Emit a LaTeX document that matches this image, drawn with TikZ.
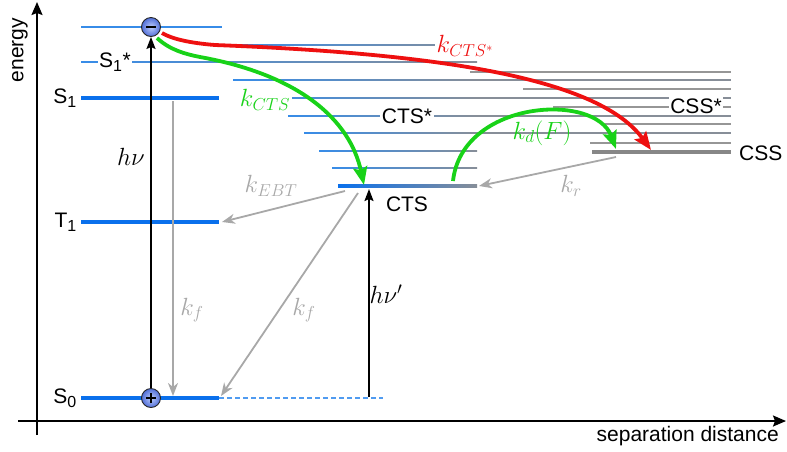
\documentclass[tikz,border=0pt]{standalone}
\usepackage[no-math]{fontspec}
\setmainfont{Liberation Sans}
\usetikzlibrary{arrows.meta}
\DeclareMathSizes{21}{21}{16}{12}
\DeclareMathSizes{24}{24}{18}{13}
\definecolor{lvblue}{RGB}{10,112,236}
\definecolor{thinblue}{RGB}{55,140,232}
\definecolor{dashblue}{RGB}{80,155,240}
\definecolor{thingray}{RGB}{135,142,152}
\definecolor{cssgray}{RGB}{150,150,150}
\definecolor{cssthick}{RGB}{135,135,135}
\definecolor{arrgray}{RGB}{168,168,168}
\definecolor{kgreen}{RGB}{24,210,24}
\definecolor{kred}{RGB}{238,16,16}
\definecolor{circin}{RGB}{190,205,252}
\definecolor{circout}{RGB}{80,110,215}
\newcommand\lvlgrad[3]{\fill[left color=thinblue,right color=thingray] (#1,#3-0.65) rectangle (#2,#3+0.65);}
\newcommand\lvlgradlong[3]{\fill[left color=thinblue,right color=thingray] (#1,#3-0.65) rectangle (477,#3+0.65);
  \fill[thingray] (477,#3-0.65) rectangle (#2,#3+0.65);}
\newcommand\lvlgray[3]{\fill[cssgray] (#1,#3-0.6) rectangle (#2,#3+0.6);}
\begin{document}
\begin{tikzpicture}[x=1pt,y=-1pt,
  lbl/.style={font=\fontsize{21}{25}\selectfont, inner sep=0pt},
  wlbl/.style={lbl, fill=white, inner sep=1.5pt},
  mlbl/.style={font=\fontsize{24}{28}\selectfont, inner sep=0pt},
  wmlbl/.style={mlbl, fill=white, inner sep=1.5pt},
  axisarrow/.style={line width=1.8pt, -{Stealth[length=13pt,width=11pt,inset=2pt]}},
  photon/.style={line width=1.8pt, -{Stealth[length=12pt,width=9pt,inset=2pt]}},
  grayarrow/.style={arrgray, line width=1.8pt, -{Stealth[length=13pt,width=10pt,inset=4pt]}},
  garrow/.style={kgreen, line width=3.8pt, -{Stealth[length=18pt,width=14pt,inset=3pt]}},
  rarrow/.style={kred, line width=3.8pt, -{Stealth[length=18pt,width=14pt,inset=3pt]}},
  lvl/.style={lvblue, line width=3.3pt},
  charge/.style={circle, draw=black!85, line width=0.9pt, minimum size=19pt, inner sep=0pt, inner color=circin, outer color=circout}
]
\useasboundingbox (0,0) rectangle (787,451);

% axes
\coordinate (ybot) at (37,435);
\coordinate (ytop) at (37,2);
\coordinate (xleft) at (18,421);
\coordinate (xright) at (786,421);
\draw[axisarrow] (ybot) -- (ytop);
\draw[axisarrow] (xleft) -- (xright);
\node[lbl, rotate=90] (energy) at (20,50) {energy};
\node[lbl, anchor=east] (sepdist) at (779,436) {separation distance};

% thin ladder lines
\fill[thinblue] (81,26.35) rectangle (222,27.65);
\lvlgrad{230}{477}{45}
\lvlgrad{81}{477}{62}
\lvlgrad{319}{477}{151}
\lvlgrad{332}{477}{168}
\lvlgradlong{233}{731}{80}
\lvlgradlong{258}{731}{98}
\lvlgradlong{288}{731}{116}
\lvlgradlong{304}{731}{133}
\lvlgray{470}{731}{72}
\lvlgray{523}{731}{89}
\lvlgray{553}{731}{107}
\lvlgray{605}{731}{124}
\lvlgray{590}{731}{143}

% thick levels
\draw[lvl] (81,98) -- (219,98);
\draw[lvl] (81,222) -- (219,222);
\draw[lvl] (81,398) -- (219,398);
\draw[dashblue, line width=1.3pt, dash pattern=on 5pt off 3pt] (219,398) -- (383,398);
\fill[left color=lvblue, right color=thingray] (338,184.4) rectangle (477,187.6);
\draw[cssthick, line width=3.3pt] (592,152) -- (731,152);

% level labels
\node[wlbl] (s1star) at (115,62) {S\textsubscript{1}*};
\node[lbl, anchor=east] (s1) at (77,98) {S\textsubscript{1}};
\node[lbl, anchor=east] (t1) at (77,222) {T\textsubscript{1}};
\node[lbl, anchor=east] (s0) at (77,398) {S\textsubscript{0}};
\node[lbl] (cts) at (407,204) {CTS};
\node[wlbl] (ctsstar) at (407,116) {CTS*};
\node[wlbl] (cssstar) at (696,106) {CSS*};
\node[lbl, anchor=west] (css) at (739,153) {CSS};

% rate labels
\node[mlbl] (hv) at (131,157) {$h\nu$};
\node[mlbl] (hv2) at (386,294) {$h\nu'$};
\node[mlbl, text=arrgray] (kf1) at (192,310) {$k_f$};
\node[mlbl, text=arrgray] (kf2) at (304,310) {$k_f$};
\node[mlbl, text=arrgray] (kebt) at (271,186) {$k_{EBT}$};
\node[mlbl, text=arrgray] (kr) at (571,186) {$k_r$};
\node[wmlbl, text=kgreen] (kcts) at (265,100) {$k_{CTS}$};
\node[wmlbl, text=kred] (kctsstar) at (465,46) {$k_{CTS^*}$};
\node[mlbl, text=kgreen] (kd) at (542,133) {$k_d(F)$};

% charges
\node[charge] (minus) at (151,27) {};
\node[charge] (plus) at (151,398) {};
\draw[line width=1.8pt] ([xshift=-5pt]minus.center) -- ([xshift=5pt]minus.center);
\draw[line width=1.8pt] ([xshift=-5pt]plus.center) -- ([xshift=5pt]plus.center);
\draw[line width=1.8pt] ([yshift=-5pt]plus.center) -- ([yshift=5pt]plus.center);

% photon arrows
\draw[photon] (plus) -- (minus);
\coordinate (hvs) at (369,397);
\coordinate (hve) at (369,189);
\draw[photon] (hvs) -- (hve);

% gray arrows
\coordinate (kf1s) at (173,101);
\coordinate (kf1e) at (173,396);
\coordinate (kf2s) at (358,193);
\coordinate (kf2e) at (221,396);
\coordinate (kebts) at (345,191);
\coordinate (kebte) at (222,222);
\coordinate (krs) at (616,157);
\coordinate (kre) at (479,186);
\draw[grayarrow] (kf1s) -- (kf1e);
\draw[grayarrow] (kf2s) -- (kf2e);
\draw[grayarrow] (kebts) -- (kebte);
\draw[grayarrow] (krs) -- (kre);

% coloured arrows
\coordinate (gs) at (157,38);
\coordinate (ge) at (364,185);
\coordinate (rs) at (162,33);
\coordinate (re) at (651,150);
\coordinate (ds) at (453,181);
\coordinate (de) at (616,149);
\draw[garrow] (gs) .. controls (170,50) and (185,54) .. (200,57) .. controls (300,75) and (350,120) .. (ge);
\draw[rarrow] (rs) .. controls (172,39) and (190,43) .. (215,45) .. controls (450,54) and (600,80) .. (re);
\draw[garrow] (ds) .. controls (462,100) and (595,92) .. (de);
\end{tikzpicture}
\end{document}
